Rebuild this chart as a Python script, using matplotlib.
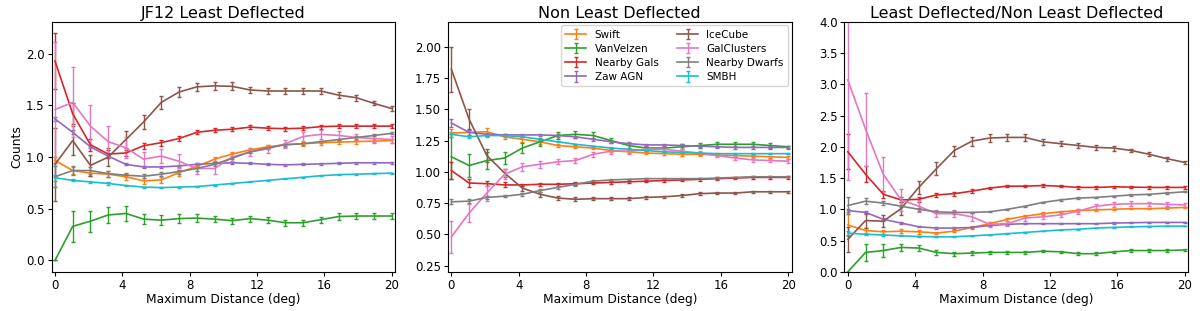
import numpy as np
import matplotlib
matplotlib.use("Agg")
import matplotlib.pyplot as plt

# maximum distance grid (deg)
dist = np.linspace(0, 20, 20)

names  = ["Swift", "VanVelzen", "Nearby Gals", "Zaw AGN", "IceCube", "GalClusters", "Nearby Dwarfs", "SMBH"]
colors = ["tab:orange", "tab:green", "tab:red", "tab:purple", "tab:brown", "tab:pink", "tab:gray", "tab:cyan"]

# JF12 least deflected
ld_vals = {
    "Swift":         [0.97, 0.87, 0.845, 0.835, 0.81, 0.77, 0.78, 0.85, 0.91, 0.98, 1.03, 1.07, 1.10, 1.12, 1.13, 1.14, 1.145, 1.15, 1.155, 1.16],
    "VanVelzen":     [0.0, 0.33, 0.38, 0.44, 0.455, 0.40, 0.39, 0.405, 0.41, 0.40, 0.385, 0.405, 0.39, 0.365, 0.365, 0.395, 0.425, 0.43, 0.43, 0.43],
    "Nearby Gals":   [1.93, 1.42, 1.12, 1.03, 1.04, 1.11, 1.14, 1.18, 1.24, 1.26, 1.27, 1.29, 1.28, 1.275, 1.28, 1.295, 1.30, 1.30, 1.30, 1.30],
    "Zaw AGN":       [1.37, 1.24, 1.10, 1.01, 0.93, 0.905, 0.905, 0.915, 0.93, 0.94, 0.945, 0.94, 0.93, 0.925, 0.93, 0.935, 0.94, 0.945, 0.945, 0.945],
    "IceCube":       [0.93, 1.16, 0.92, 1.00, 1.17, 1.34, 1.53, 1.63, 1.68, 1.69, 1.685, 1.65, 1.64, 1.64, 1.64, 1.64, 1.60, 1.575, 1.52, 1.47],
    "GalClusters":   [1.46, 1.53, 1.30, 1.15, 1.09, 0.98, 1.01, 0.96, 0.89, 0.89, 1.00, 1.05, 1.08, 1.13, 1.20, 1.22, 1.21, 1.19, 1.18, 1.17],
    "Nearby Dwarfs": [0.81, 0.87, 0.87, 0.84, 0.825, 0.815, 0.835, 0.86, 0.89, 0.93, 0.99, 1.05, 1.09, 1.12, 1.13, 1.15, 1.17, 1.19, 1.21, 1.23],
    "SMBH":          [0.80, 0.775, 0.76, 0.745, 0.725, 0.71, 0.705, 0.71, 0.715, 0.73, 0.745, 0.76, 0.775, 0.79, 0.805, 0.82, 0.83, 0.835, 0.84, 0.845],
}
ld_errs = {
    "Swift":         [0.03, 0.03, 0.03, 0.03, 0.03, 0.03, 0.03, 0.03, 0.02, 0.02, 0.02, 0.02, 0.02, 0.02, 0.02, 0.02, 0.02, 0.02, 0.02, 0.02],
    "VanVelzen":     [0.0, 0.15, 0.10, 0.08, 0.07, 0.05, 0.05, 0.04, 0.04, 0.03, 0.03, 0.03, 0.03, 0.03, 0.03, 0.03, 0.03, 0.03, 0.03, 0.03],
    "Nearby Gals":   [0.27, 0.10, 0.06, 0.04, 0.03, 0.03, 0.03, 0.02, 0.02, 0.02, 0.02, 0.02, 0.02, 0.02, 0.02, 0.02, 0.02, 0.02, 0.02, 0.02],
    "Zaw AGN":       [0.02, 0.02, 0.015, 0.015, 0.01, 0.01, 0.01, 0.01, 0.01, 0.01, 0.01, 0.01, 0.01, 0.01, 0.01, 0.01, 0.01, 0.01, 0.01, 0.01],
    "IceCube":       [0.35, 0.14, 0.10, 0.09, 0.08, 0.07, 0.06, 0.05, 0.04, 0.04, 0.04, 0.03, 0.03, 0.03, 0.03, 0.03, 0.03, 0.03, 0.02, 0.02],
    "GalClusters":   [0.65, 0.34, 0.20, 0.15, 0.10, 0.07, 0.07, 0.07, 0.05, 0.05, 0.04, 0.04, 0.04, 0.04, 0.04, 0.04, 0.04, 0.03, 0.03, 0.03],
    "Nearby Dwarfs": [0.10, 0.04, 0.03, 0.03, 0.02, 0.02, 0.02, 0.02, 0.02, 0.02, 0.01, 0.01, 0.01, 0.01, 0.01, 0.01, 0.01, 0.01, 0.01, 0.01],
    "SMBH":          [0.03, 0.01, 0.01, 0.01, 0.005, 0.005, 0.005, 0.005, 0.005, 0.005, 0.005, 0.005, 0.005, 0.005, 0.005, 0.005, 0.005, 0.005, 0.005, 0.005],
}

# non least deflected
nld_vals = {
    "Swift":         [1.31, 1.315, 1.32, 1.28, 1.26, 1.24, 1.21, 1.20, 1.19, 1.17, 1.16, 1.15, 1.145, 1.14, 1.14, 1.135, 1.13, 1.125, 1.12, 1.115],
    "VanVelzen":     [1.12, 1.05, 1.09, 1.11, 1.19, 1.24, 1.29, 1.30, 1.29, 1.25, 1.21, 1.19, 1.19, 1.20, 1.21, 1.22, 1.22, 1.22, 1.21, 1.20],
    "Nearby Gals":   [1.01, 0.91, 0.905, 0.895, 0.895, 0.90, 0.90, 0.905, 0.91, 0.915, 0.92, 0.925, 0.93, 0.935, 0.94, 0.945, 0.95, 0.955, 0.955, 0.955],
    "Zaw AGN":       [1.39, 1.315, 1.30, 1.295, 1.295, 1.295, 1.29, 1.28, 1.26, 1.24, 1.225, 1.215, 1.215, 1.21, 1.205, 1.20, 1.195, 1.195, 1.195, 1.195],
    "IceCube":       [1.82, 1.42, 1.13, 0.99, 0.87, 0.82, 0.79, 0.78, 0.785, 0.785, 0.785, 0.795, 0.80, 0.81, 0.825, 0.83, 0.83, 0.84, 0.84, 0.84],
    "GalClusters":   [0.48, 0.67, 0.83, 0.98, 1.04, 1.06, 1.08, 1.09, 1.14, 1.165, 1.165, 1.18, 1.18, 1.165, 1.15, 1.13, 1.11, 1.095, 1.09, 1.085],
    "Nearby Dwarfs": [0.76, 0.765, 0.795, 0.805, 0.82, 0.85, 0.875, 0.90, 0.925, 0.935, 0.94, 0.945, 0.945, 0.945, 0.945, 0.95, 0.955, 0.96, 0.96, 0.96],
    "SMBH":          [1.30, 1.28, 1.29, 1.29, 1.28, 1.26, 1.24, 1.22, 1.205, 1.19, 1.18, 1.17, 1.16, 1.155, 1.15, 1.145, 1.145, 1.145, 1.145, 1.145],
}
nld_errs = {
    "Swift":         [0.03, 0.02, 0.03, 0.02, 0.02, 0.02, 0.01, 0.01, 0.01, 0.01, 0.01, 0.01, 0.01, 0.01, 0.01, 0.01, 0.01, 0.01, 0.01, 0.01],
    "VanVelzen":     [0.18, 0.09, 0.07, 0.05, 0.04, 0.03, 0.03, 0.03, 0.03, 0.02, 0.02, 0.02, 0.02, 0.02, 0.02, 0.02, 0.02, 0.02, 0.02, 0.01],
    "Nearby Gals":   [0.07, 0.03, 0.02, 0.02, 0.01, 0.01, 0.01, 0.01, 0.01, 0.01, 0.01, 0.01, 0.01, 0.01, 0.01, 0.01, 0.01, 0.01, 0.01, 0.01],
    "Zaw AGN":       [0.03, 0.02, 0.01, 0.01, 0.01, 0.01, 0.01, 0.01, 0.01, 0.01, 0.01, 0.01, 0.01, 0.01, 0.01, 0.01, 0.01, 0.01, 0.01, 0.01],
    "IceCube":       [0.18, 0.08, 0.05, 0.03, 0.02, 0.02, 0.015, 0.015, 0.01, 0.01, 0.01, 0.01, 0.01, 0.01, 0.01, 0.01, 0.01, 0.01, 0.01, 0.01],
    "GalClusters":   [0.13, 0.07, 0.06, 0.04, 0.03, 0.03, 0.02, 0.02, 0.02, 0.02, 0.02, 0.02, 0.02, 0.02, 0.015, 0.015, 0.015, 0.015, 0.015, 0.015],
    "Nearby Dwarfs": [0.02, 0.015, 0.01, 0.01, 0.01, 0.01, 0.01, 0.01, 0.01, 0.01, 0.005, 0.005, 0.005, 0.005, 0.005, 0.005, 0.005, 0.005, 0.005, 0.005],
    "SMBH":          [0.02, 0.01, 0.01, 0.01, 0.005, 0.005, 0.005, 0.005, 0.005, 0.005, 0.005, 0.005, 0.005, 0.005, 0.005, 0.005, 0.005, 0.005, 0.005, 0.005],
}

# ratio least / non least
ratio_vals = {
    "Swift":         [0.75, 0.66, 0.64, 0.65, 0.64, 0.62, 0.65, 0.71, 0.77, 0.84, 0.89, 0.93, 0.96, 0.98, 0.99, 1.00, 1.01, 1.01, 1.02, 1.03],
    "VanVelzen":     [0.0, 0.31, 0.34, 0.39, 0.38, 0.31, 0.29, 0.30, 0.31, 0.31, 0.31, 0.33, 0.32, 0.29, 0.29, 0.32, 0.34, 0.34, 0.34, 0.35],
    "Nearby Gals":   [1.92, 1.56, 1.24, 1.15, 1.16, 1.23, 1.25, 1.29, 1.34, 1.37, 1.37, 1.38, 1.37, 1.35, 1.35, 1.36, 1.355, 1.35, 1.35, 1.35],
    "Zaw AGN":       [0.98, 0.95, 0.84, 0.78, 0.72, 0.70, 0.70, 0.71, 0.74, 0.76, 0.77, 0.77, 0.77, 0.77, 0.77, 0.78, 0.785, 0.79, 0.79, 0.79],
    "IceCube":       [0.52, 0.82, 0.81, 1.01, 1.35, 1.65, 1.94, 2.09, 2.14, 2.15, 2.15, 2.08, 2.05, 2.02, 1.99, 1.98, 1.94, 1.88, 1.81, 1.75],
    "GalClusters":   [3.07, 2.28, 1.56, 1.15, 1.05, 0.93, 0.93, 0.88, 0.76, 0.77, 0.86, 0.88, 0.91, 0.97, 1.05, 1.08, 1.09, 1.09, 1.08, 1.07],
    "Nearby Dwarfs": [1.06, 1.13, 1.10, 1.05, 1.00, 0.96, 0.95, 0.95, 0.96, 1.00, 1.05, 1.11, 1.15, 1.18, 1.19, 1.21, 1.23, 1.24, 1.26, 1.28],
    "SMBH":          [0.62, 0.60, 0.59, 0.575, 0.565, 0.56, 0.56, 0.575, 0.59, 0.61, 0.63, 0.65, 0.67, 0.68, 0.70, 0.71, 0.72, 0.725, 0.73, 0.73],
}
ratio_errs = {
    "Swift":         [0.17, 0.04, 0.03, 0.03, 0.03, 0.02, 0.02, 0.02, 0.02, 0.02, 0.02, 0.02, 0.02, 0.02, 0.01, 0.01, 0.01, 0.01, 0.01, 0.01],
    "VanVelzen":     [0.0, 0.13, 0.10, 0.06, 0.05, 0.04, 0.03, 0.03, 0.03, 0.02, 0.02, 0.02, 0.02, 0.02, 0.02, 0.02, 0.02, 0.02, 0.02, 0.02],
    "Nearby Gals":   [0.28, 0.13, 0.06, 0.04, 0.04, 0.03, 0.03, 0.03, 0.02, 0.02, 0.02, 0.02, 0.02, 0.02, 0.02, 0.02, 0.02, 0.02, 0.02, 0.02],
    "Zaw AGN":       [0.03, 0.02, 0.02, 0.01, 0.01, 0.01, 0.01, 0.01, 0.01, 0.01, 0.01, 0.01, 0.01, 0.01, 0.01, 0.01, 0.01, 0.01, 0.01, 0.01],
    "IceCube":       [0.20, 0.12, 0.10, 0.10, 0.10, 0.10, 0.08, 0.07, 0.06, 0.06, 0.05, 0.05, 0.04, 0.04, 0.04, 0.04, 0.03, 0.03, 0.03, 0.03],
    "GalClusters":   [1.60, 0.58, 0.28, 0.17, 0.10, 0.06, 0.06, 0.06, 0.04, 0.04, 0.04, 0.04, 0.04, 0.04, 0.04, 0.04, 0.04, 0.03, 0.03, 0.03],
    "Nearby Dwarfs": [0.13, 0.05, 0.03, 0.02, 0.02, 0.02, 0.02, 0.01, 0.01, 0.01, 0.01, 0.01, 0.01, 0.01, 0.01, 0.01, 0.01, 0.01, 0.01, 0.01],
    "SMBH":          [0.03, 0.01, 0.01, 0.01, 0.005, 0.005, 0.005, 0.005, 0.005, 0.005, 0.005, 0.005, 0.005, 0.005, 0.005, 0.005, 0.005, 0.005, 0.005, 0.005],
}

titles = ["JF12 Least Deflected", "Non Least Deflected", "Least Deflected/Non Least Deflected"]
ylims = [(-0.11, 2.31), (0.2, 2.2), (0.0, 4.0)]
xticks = [0, 4, 8, 12, 16, 20]

fig, axes = plt.subplots(1, 3, figsize=(12, 3.11), dpi=100)
fig.subplots_adjust(left=0.043, right=0.99, top=0.930, bottom=0.126, wspace=0.154)

panels = [(ld_vals, ld_errs), (nld_vals, nld_errs), (ratio_vals, ratio_errs)]
for ax, (vals, errs), title, ylim in zip(axes, panels, titles, ylims):
    for name, col in zip(names, colors):
        ax.errorbar(dist, vals[name], yerr=errs[name], color=col, label=name,
                    lw=1.2, elinewidth=1.0, capsize=1.6, capthick=1.0)
    ax.set_title(title, fontsize=11.5, pad=3)
    ax.set_xlim(-0.2, 20.2)
    ax.set_ylim(*ylim)
    ax.set_xticks(xticks)
    ax.tick_params(labelsize=8.5, length=3, pad=2)
    ax.set_xlabel("Maximum Distance (deg)", fontsize=8.8, labelpad=1)

axes[0].set_ylabel("Counts", fontsize=8.8, labelpad=2)
axes[1].legend(loc="upper right", ncol=2, fontsize=7.5, handlelength=2.0,
               columnspacing=1.8, labelspacing=0.4, borderaxespad=0.35)

fig.savefig("out.png", dpi=100)
